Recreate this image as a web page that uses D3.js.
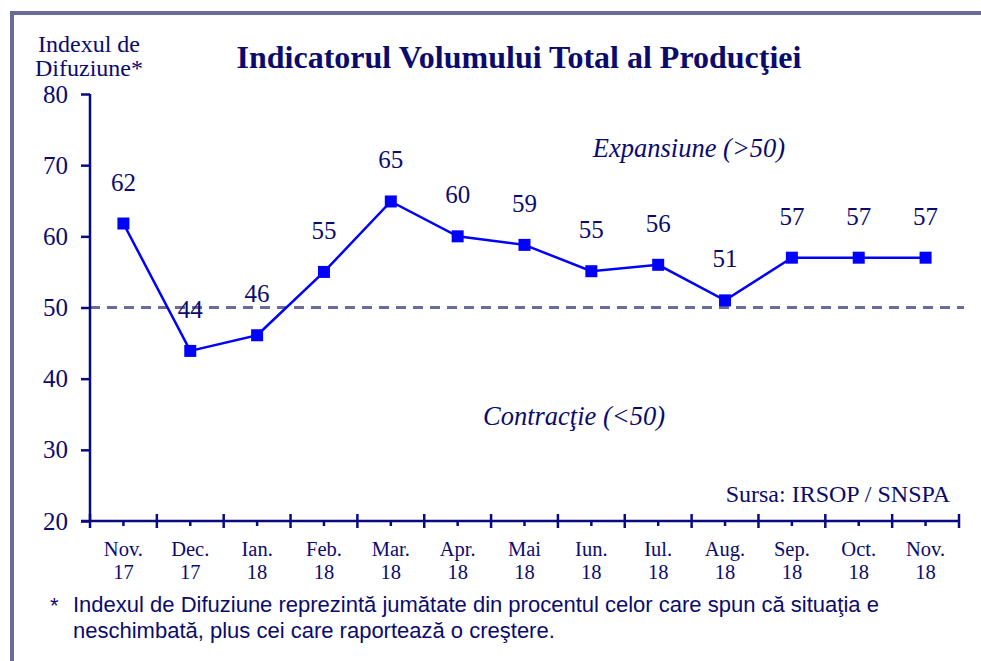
<!DOCTYPE html>
<html><head><meta charset="utf-8">
<script src="https://cdn.jsdelivr.net/npm/d3@7"></script>
<style>
html,body{margin:0;padding:0;background:#fff;}
svg{display:block;}
</style></head>
<body>
<svg id="c" width="981" height="661"></svg>
<script>
const monthLabels = ["Nov.","Dec.","Ian.","Feb.","Mar.","Apr.","Mai","Iun.","Iul.","Aug.","Sep.","Oct.","Nov."];
const yearLabels  = ["17","17","18","18","18","18","18","18","18","18","18","18","18"];
const values      = [61.8, 43.9, 46.1, 55.0, 64.9, 60.0, 58.8, 55.1, 56.0, 51.0, 57.0, 57.0, 57.0];
const valueLabels = ["62","44","46","55","65","60","59","55","56","51","57","57","57"];
const yTicks      = [20, 30, 40, 50, 60, 70, 80];
const threshold   = 50;

(function () {
const navy = "#0b0b6e", axisCol = "#0a0a80", lineCol = "#0000ff", dashCol = "#6b6b9b";
const serif = "'Liberation Serif','Times New Roman',serif";
const sans = "'Liberation Sans',Arial,sans-serif";

const svg = d3.select("#c");

// frame
svg.append("rect").attr("x", 12).attr("y", 13).attr("width", 1000).attr("height", 700)
  .attr("fill", "none").attr("stroke", dashCol).attr("stroke-width", 4);

const mLeft = 90, mRight = 959, mTop = 94, mBottom = 521;
const x = d3.scaleBand().domain(d3.range(values.length)).range([mLeft, mRight]).padding(0);
const y = d3.scaleLinear().domain([20, 80]).range([mBottom, mTop]);
const cx = i => x(i) + x.bandwidth() / 2;

// title
svg.append("text").attr("x", 519).attr("y", 68).attr("text-anchor", "middle")
  .attr("font-family", serif).attr("font-weight", "bold").attr("font-size", 32).attr("fill", navy)
  .text("Indicatorul Volumului Total al Producţiei");

// y axis title
svg.append("text").attr("text-anchor", "middle")
  .attr("font-family", serif).attr("font-size", 24).attr("fill", navy)
  .selectAll("tspan").data(["Indexul de", "Difuziune*"]).join("tspan")
  .attr("x", 89).attr("y", (d, i) => 52 + i * 24).text(d => d);

// threshold dashed line
svg.append("line").attr("x1", mLeft).attr("x2", 964).attr("y1", y(threshold)).attr("y2", y(threshold))
  .attr("stroke", dashCol).attr("stroke-width", 3).attr("stroke-dasharray", "10,7");

// y axis
const yAxis = d3.axisLeft(y).tickValues(yTicks).tickSize(9).tickPadding(13);
const gy = svg.append("g").attr("transform", `translate(${mLeft},0)`).call(yAxis);
gy.select(".domain").attr("stroke", axisCol).attr("stroke-width", 2.5).attr("d", `M0,${mTop}V${mBottom}`);
gy.selectAll(".tick line").attr("stroke", axisCol).attr("stroke-width", 2.5);
gy.selectAll(".tick text").attr("font-family", serif).attr("font-size", 25).attr("fill", navy);

// x axis
const gx = svg.append("g");
gx.append("line").attr("x1", mLeft - 9).attr("x2", mRight).attr("y1", mBottom).attr("y2", mBottom)
  .attr("stroke", axisCol).attr("stroke-width", 2.5);
const bounds = d3.range(values.length + 1).map(i => i < values.length ? x(i) : mRight);
gx.selectAll("line.maj").data(bounds).join("line").attr("class", "maj")
  .attr("x1", d => d).attr("x2", d => d).attr("y1", mBottom - 7).attr("y2", mBottom + 7)
  .attr("stroke", axisCol).attr("stroke-width", 2.5);
gx.selectAll("line.min").data(d3.range(values.length)).join("line").attr("class", "min")
  .attr("x1", cx).attr("x2", cx).attr("y1", mBottom).attr("y2", mBottom + 5)
  .attr("stroke", axisCol).attr("stroke-width", 2.5);
const xl = gx.selectAll("text.xl").data(d3.range(values.length)).join("text").attr("class", "xl")
  .attr("text-anchor", "middle").attr("font-family", serif).attr("font-size", 20.5).attr("fill", navy);
xl.append("tspan").attr("x", cx).attr("y", 556).text(i => monthLabels[i]);
xl.append("tspan").attr("x", cx).attr("y", 579).text(i => yearLabels[i]);

// zone labels
svg.append("text").attr("x", 689).attr("y", 157).attr("text-anchor", "middle")
  .attr("font-family", serif).attr("font-style", "italic").attr("font-size", 26.5).attr("fill", navy)
  .text("Expansiune (>50)");
svg.append("text").attr("x", 574).attr("y", 425).attr("text-anchor", "middle")
  .attr("font-family", serif).attr("font-style", "italic").attr("font-size", 26.5).attr("fill", navy)
  .text("Contracţie (<50)");

// source
svg.append("text").attr("x", 950).attr("y", 502).attr("text-anchor", "end")
  .attr("font-family", serif).attr("font-size", 24).attr("fill", navy)
  .text("Sursa: IRSOP / SNSPA");

// line + markers
const line = d3.line().x((d, i) => cx(i)).y(d => y(d));
svg.append("path").datum(values).attr("d", line).attr("fill", "none")
  .attr("stroke", lineCol).attr("stroke-width", 2.5);
svg.selectAll("rect.m").data(values).join("rect").attr("class", "m")
  .attr("x", (d, i) => cx(i) - 6).attr("y", d => y(d) - 6).attr("width", 12).attr("height", 12)
  .attr("fill", lineCol);

// value labels
svg.selectAll("text.v").data(values).join("text").attr("class", "v")
  .attr("x", (d, i) => cx(i)).attr("y", d => y(d) - 33).attr("text-anchor", "middle")
  .attr("font-family", serif).attr("font-size", 25).attr("fill", navy)
  .text((d, i) => valueLabels[i]);

// footnote
svg.append("text").attr("x", 50).attr("y", 613).attr("font-family", sans).attr("font-size", 22).attr("fill", navy).text("*");
svg.append("text").attr("font-family", sans).attr("font-size", 22).attr("fill", navy)
  .selectAll("tspan").data(["Indexul de Difuziune reprezintă jumătate din procentul celor care spun că situaţia e",
    "neschimbată, plus cei care raportează o creştere."]).join("tspan")
  .attr("x", 73).attr("y", (d, i) => 612 + i * 26).text(d => d);
})();
</script>
</body></html>
